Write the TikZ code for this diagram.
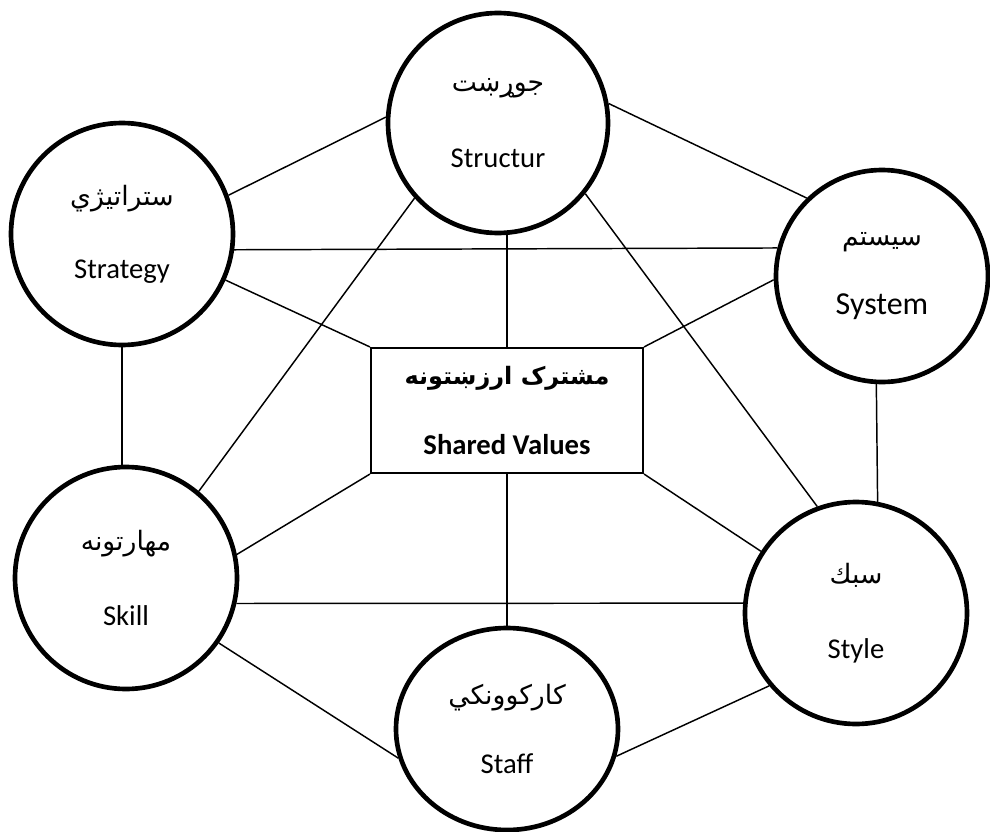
\documentclass[tikz,border=0pt]{standalone}
\usepackage{fontspec}
\setmainfont{Carlito}
\newfontfamily\pashto[Script=Arabic]{DejaVu Sans}
\TeXXeTstate=1
\usetikzlibrary{shapes.geometric,positioning,calc}
\newcommand{\ps}[2][20]{{\pashto\fontsize{#1}{25}\selectfont\beginR #2\endR}}

\begin{document}
\begin{tikzpicture}[x=0.75pt,y=-0.75pt,
    ring/.style={ellipse, draw, line width=3.5pt, align=center, inner sep=0pt,
        font=\fontsize{21.5}{25}\selectfont},
    link/.style={line width=1.1pt}]
    \useasboundingbox (0,0) rectangle (990,832);

    % Seven S circles
    \node[ring, minimum width=165pt, minimum height=165pt] (struct) at (498,123) {\ps{جوړښت}\\[32pt] Structur};
    \node[ring, minimum width=166.5pt, minimum height=166.5pt] (strat) at (122,234) {\ps{ستراتيژي}\\[30pt] Strategy};
    \node[ring, minimum width=159pt, minimum height=159pt, font=\fontsize{24}{28}\selectfont] (system) at (882,276) {\ps{سيستم}\\[24pt] System};
    \node[ring, minimum width=166.5pt, minimum height=166.5pt] (skill) at (126,578) {\ps{مهارتونه}\\[31pt] Skill};
    \node[ring, minimum width=166.5pt, minimum height=166.5pt] (style) at (856,613) {\ps{سبك}\\[31pt] Style};
    \node[ring, minimum width=166.5pt, minimum height=151.5pt] (staff) at (507,729) {\ps{کارکوونکي}\\[27pt] Staff};

    % Shared values
    \node[draw, line width=1.6pt, minimum width=204pt, minimum height=93.75pt, align=center,
        font=\bfseries\fontsize{21.5}{25}\selectfont] (box) at (507,410.5) {\ps[18]{مشترک ارزښتونه}\\[27pt] Shared Values};

    % Outer ring
    \draw[link] (struct.177) -- (strat.20);
    \draw[link] (struct.10) -- (system.134);
    \draw[link] (strat.south) -- (strat.south |- skill.north);
    \draw[link] (system.267) -- (style.79);
    \draw[link] (skill.-35) -- (staff.195);
    \draw[link] (style.-140) -- (staff.-14);

    % Cross lines
    \draw[link] (strat.-8) -- (system.165);
    \draw[link] (skill.-13) -- (style.175);
    \draw[link] (struct.222) -- (skill.50);
    \draw[link] (struct.-39) -- (style.110);

    % Lines to the box
    \draw[link] (box.north) -- (box.north |- struct.south);
    \draw[link] (box.south) -- (staff.north);
    \draw[link] (box.north west) -- (strat.-24);
    \draw[link] (box.north east) -- (system.182);
    \draw[link] (box.south west) -- (skill.12);
    \draw[link] (box.south east) -- (style.147);
\end{tikzpicture}
\end{document}
